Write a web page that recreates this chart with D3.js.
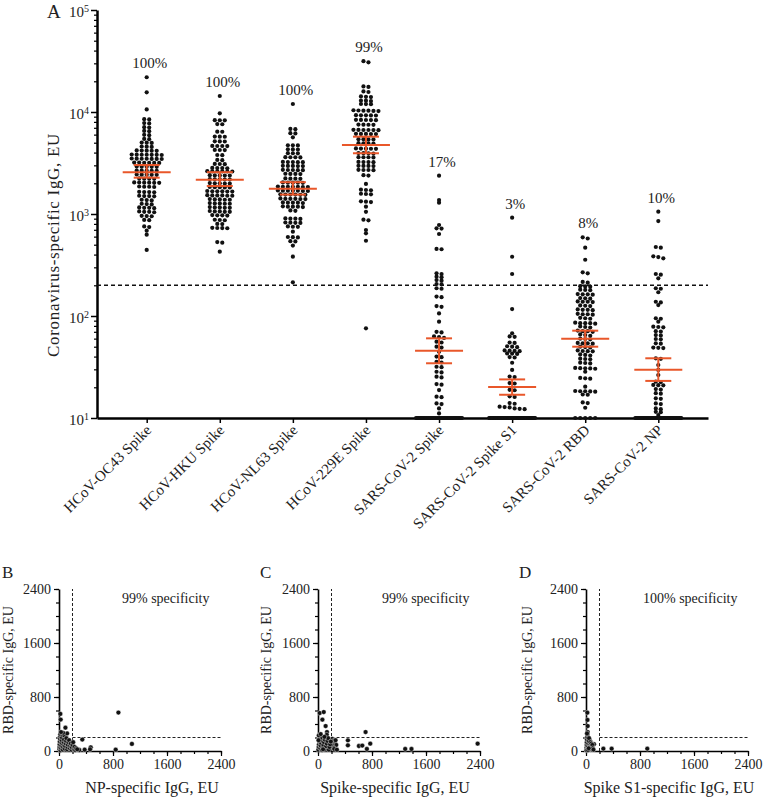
<!DOCTYPE html>
<meta charset="utf-8">
<style>
body { margin: 0; background: #fff; }
svg { font-family: "Liberation Serif", "Times New Roman", serif; }
text { fill: #222; }
</style>
<svg width="763" height="800"></svg>
<script src="https://d3js.org/d3.v7.min.js"></script>
<script>
// panel A: antibody levels per antigen (EU)
var categories = ["HCoV-OC43 Spike", "HCoV-HKU Spike", "HCoV-NL63 Spike", "HCoV-229E Spike",
                  "SARS-CoV-2 Spike", "SARS-CoV-2 Spike S1", "SARS-CoV-2 RBD", "SARS-CoV-2 NP"];

var oc43 = [21900, 15600, 10600, 8500, 8450, 7780, 7720, 7100, 7050, 6530, 6480, 5970, 5930, 5450, 5410,
  5020, 5000, 4980, 4590, 4570, 4550, 4200, 4190, 4180, 4170, 4160, 3830, 3820, 3810, 3810, 3800, 3800, 3790,
  3500, 3490, 3480, 3480, 3470, 3470, 3460, 3190, 3190, 3180, 3180, 3170, 3170, 2920, 2910, 2910, 2900, 2900,
  2670, 2660, 2660, 2650, 2650, 2440, 2430, 2430, 2420, 2420, 2230, 2220, 2220, 2210, 2040, 2040, 2030, 2030,
  2020, 2020, 1860, 1850, 1850, 1840, 1650, 1640, 1640, 1630, 1510, 1500, 1500, 1490, 1380, 1370, 1360, 1260,
  1250, 1240, 1160, 1150, 1150, 1140, 1060, 1050, 1050, 1040, 960, 955, 950, 875, 870, 755, 745, 686, 627, 444];
var hku = [14350, 9710, 8320, 8300, 8280, 7620, 7580, 6420, 6400, 5740, 5730, 5720, 5160, 5150, 5140,
  4650, 4640, 4640, 4630, 4250, 4240, 4230, 3790, 3770, 3390, 3370, 3100, 3090, 3080, 2830, 2820, 2820, 2810,
  2630, 2620, 2620, 2620, 2610, 2610, 2400, 2390, 2390, 2380, 2380, 2200, 2190, 2190, 2180, 2180, 2010, 2000,
  2000, 1990, 1990, 1840, 1830, 1830, 1820, 1820, 1680, 1670, 1670, 1670, 1660, 1660, 1530, 1520, 1520, 1520,
  1510, 1510, 1400, 1390, 1390, 1380, 1380, 1280, 1270, 1270, 1260, 1260, 1170, 1160, 1160, 1150, 1150, 1070,
  1060, 1060, 1050, 1050, 975, 970, 970, 965, 878, 873, 868, 800, 796, 732, 729, 728, 725, 530, 524, 427];
var nl63 = [11980, 6830, 6790, 6200, 6160, 5650, 4720, 4710, 4700, 4310, 4300, 4290, 3950, 3940, 3930,
  3610, 3600, 3600, 3590, 3240, 3230, 3230, 3220, 3220, 2970, 2960, 2960, 2950, 2950, 2710, 2700, 2700, 2690,
  2690, 2480, 2470, 2470, 2460, 2230, 2220, 2220, 2210, 2040, 2030, 2030, 2030, 2020, 1860, 1850, 1850, 1850,
  1850, 1840, 1840, 1700, 1690, 1690, 1690, 1690, 1680, 1680, 1560, 1550, 1550, 1550, 1540, 1540, 1420, 1410,
  1410, 1410, 1400, 1400, 1300, 1290, 1290, 1290, 1280, 1190, 1180, 1180, 1180, 1170, 1085, 1075, 905, 900,
  900, 895, 825, 822, 820, 818, 755, 750, 748, 671, 595, 592, 589, 542, 538, 490, 382, 214];
var hcov229e = [31500, 30700, 17800, 17600, 15900, 15700, 14200, 14100, 14000, 12900, 12900, 12800, 11980,
  11960, 11940, 10400, 10350, 10300, 10300, 10250, 10200, 9300, 9280, 9270, 9260, 9240, 8380, 8360, 8350, 8340,
  8320, 7530, 7520, 7500, 7490, 6690, 6670, 6660, 6660, 6650, 6630, 6110, 6100, 6090, 6080, 6070, 5420, 5410,
  5390, 5380, 4950, 4940, 4920, 4910, 4390, 4380, 4370, 4360, 4350, 3960, 3950, 3930, 3920, 3610, 3600, 3600,
  3590, 3240, 3230, 3230, 3220, 2970, 2960, 2960, 2950, 2710, 2700, 2700, 2690, 2400, 2380, 1970, 1730, 1720,
  1710, 1580, 1570, 1560, 1330, 1320, 1310, 1180, 1050, 880, 866, 697, 647, 547, 75.7];
var sarsSpike = [2375, 1370, 1290, 780, 724, 720, 637, 455, 451, 262, 258, 243, 240, 225, 222, 206, 204,
  187, 185, 155, 153, 125, 123, 106, 88, 70, 69, 63, 62, 61, 56, 55, 50, 49, 44.7, 40, 39.5, 35.6, 35, 31.8,
  31.5, 28.4, 28, 25.4, 25, 21.5, 21.2, 18.8, 16.2, 16, 13.9, 13.7, 12.4, 11.1,
  10, 10, 10, 10, 10, 10, 10, 10, 10, 10, 10, 10, 10, 10, 10, 10, 10, 10, 10, 10, 10, 10, 10,
  10, 10, 10, 10, 10, 10, 10, 10, 10, 10, 10, 10, 10, 10, 10, 10, 10, 10, 10, 10];
var sarsS1 = [920, 381, 258, 117, 67.6, 63, 62.5, 55, 54.5, 50.5, 50, 49.5, 46, 45.7, 45.5, 45.2, 43, 42.8,
  42.5, 39.6, 39.2, 34.8, 29.6, 25.5, 25.2, 22, 21.8, 18.9, 18.7, 16.3, 16.1, 14, 13.8, 12.9, 12.8, 12.7, 12.4,
  12.3, 12.2,
  10, 10, 10, 10, 10, 10, 10, 10, 10, 10, 10, 10, 10, 10, 10, 10, 10, 10, 10, 10, 10, 10, 10, 10, 10, 10, 10,
  10, 10, 10, 10, 10, 10, 10, 10, 10, 10, 10, 10, 10, 10, 10, 10, 10, 10, 10, 10, 10, 10, 10, 10, 10, 10, 10,
  10, 10, 10, 10, 10, 10, 10];
var sarsRbd = [590, 575, 468, 356, 268, 262, 216, 212, 196, 195, 194, 181, 180, 179, 164, 163, 163, 162, 150,
  149, 148, 139, 138, 138, 137, 127, 126, 125, 116, 115, 115, 114, 105, 104, 104, 103, 96, 95, 94, 86, 85, 85,
  85, 84, 79, 78, 77, 72, 71, 71, 70, 66, 65, 64, 60, 59.5, 59, 54.5, 54, 54, 53.5, 50, 49.6, 49.2, 46, 45.4,
  45.2, 45, 42, 41.5, 41, 38.2, 37.9, 37.6, 34.9, 34.6, 34.3, 31, 30.8, 30.7, 30.6, 30.4, 28.4, 24.7, 24.5,
  24.3, 20.3, 18.4, 18.3, 18.3, 18.2, 18.1, 17, 16.9, 14.2, 14, 12.6, 10, 10, 10, 10, 10];
var sarsNp = [1054, 853, 475, 468, 385, 378, 368, 258, 254, 234, 187, 185, 171, 138, 136, 128, 95, 94, 88,
  78.5, 78, 77.5, 71, 70.5, 65, 64.5, 59.5, 59, 54, 53.5, 49, 48.8, 48.5, 38.5, 38, 33.1, 29.6, 26.4, 22.7,
  22.5, 21.1, 21, 20.9, 19.2, 19, 17.5, 17.3, 15.6, 15.4, 13.9, 13.7, 12.4, 12.2, 11.5, 11.4, 10.7,
  10, 10, 10, 10, 10, 10, 10, 10, 10, 10, 10, 10, 10, 10, 10, 10, 10, 10, 10, 10, 10, 10, 10, 10, 10, 10,
  10, 10, 10, 10, 10, 10, 10, 10, 10, 10, 10, 10, 10, 10, 10, 10, 10, 10, 10, 10, 10, 10];
var seriesA = [oc43, hku, nl63, hcov229e, sarsSpike, sarsS1, sarsRbd, sarsNp];

var geoMean = [2570, 2170, 1770, 4740, 45.7, 20.1, 59.9, 29.8];
var ciLow   = [2270, 1880, 1550, 3940, 34.4, 16.9, 50, 23.1];
var ciHigh  = [3020, 2570, 2050, 5730, 60.4, 23.9, 71.8, 38.5];
var positivity = ["100%", "100%", "100%", "99%", "17%", "3%", "8%", "10%"];
var yTicksA = [10, 100, 1000, 10000, 100000];
var cutoff = 200;

// panels B-D: RBD vs other antigen
var npB   = [880, 345, 1080, 840, 470, 460, 380, 300, 20, 25, 95,
  5, 8, 10, 12, 15, 18, 20, 25, 30, 35, 38, 40, 45, 50, 55, 60, 65, 70, 75, 80, 85, 90, 100, 105, 110,
  120, 125, 130, 140, 150, 160, 165, 175, 185, 190, 200, 210, 220, 230, 240, 255, 270, 120, 60, 30];
var rbdB  = [570, 170, 105, 20, 55, 25, 20, 15, 550, 465, 345,
  30, 60, 100, 140, 180, 220, 250, 10, 45, 80, 120, 160, 200, 240, 20, 60, 100, 130, 170, 230, 35, 75, 110, 150, 190,
  25, 60, 95, 130, 160, 40, 80, 110, 20, 55, 90, 130, 30, 60, 15, 40, 25, 260, 270, 280];
var spikeC = [25, 85, 65, 113, 133, 130, 705, 443, 443, 774, 606, 656, 724, 1292, 1385, 2365,
  210, 230, 250, 270, 220, 240, 280, 200, 260,
  5, 10, 15, 20, 25, 30, 35, 40, 45, 50, 55, 60, 70, 80, 90, 100, 110, 120, 130, 140, 150, 160, 170, 180, 190,
  12, 40, 8, 75, 95];
var rbdC   = [562, 577, 464, 370, 281, 240, 281, 158, 84, 109, 74, 80, 30, 30, 30, 109,
  180, 150, 120, 90, 60, 30, 20, 100, 160,
  20, 60, 100, 140, 180, 210, 40, 80, 120, 160, 200, 15, 50, 90, 130, 170, 30, 70, 110, 150, 190, 20, 60, 100, 140,
  230, 250, 160, 25, 210];
var s1D  = [20, 22, 25, 25, 30, 60, 118, 257, 380, 908,
  5, 8, 10, 12, 15, 18, 20, 25, 30, 35, 40, 45, 50, 55, 60, 65, 70, 75, 80, 85, 90, 95, 100, 110, 10, 30, 40, 15];
var rbdD = [568, 460, 370, 281, 200, 148, 100, 34, 34, 34,
  20, 50, 90, 130, 170, 210, 245, 30, 70, 110, 150, 190, 20, 55, 95, 130, 40, 75, 110, 20, 60, 90, 40, 20, 10, 15, 40, 260];
var linTicks = [0, 800, 1600, 2400];
var minorStep = 200;

var svg = d3.select("svg");
var red = "#e9572a";
var serif = "Liberation Serif";

// ---------- panel A ----------
var x = d3.scalePoint().domain(categories).range([97, 708]).padding(0.68);
var y = d3.scaleLog().domain([10, 100000]).range([418, 10]);

var gA = svg.append("g");

var minor = y.ticks().filter(function(d) { return yTicksA.indexOf(d) < 0; });
gA.append("g").attr("transform", "translate(97,0)")
    .call(d3.axisLeft(y).tickValues(minor).tickSize(3).tickFormat(""))
    .call(function(g) { g.select(".domain").remove(); g.selectAll("line").attr("stroke-width", 1.2); });

var yAx = gA.append("g").attr("transform", "translate(97,0)")
    .call(d3.axisLeft(y).tickValues(yTicksA).tickSize(6).tickSizeOuter(0).tickFormat(""))
    .attr("font-family", serif);
yAx.select(".domain").attr("stroke-width", 2.5);
yAx.selectAll("line").attr("stroke-width", 1.5);
yAx.selectAll(".tick text").each(function(d) {
    var t = d3.select(this).attr("x", -8).attr("font-size", "15px").attr("dy", "0.4em");
    t.append("tspan").text("10");
    t.append("tspan").attr("dy", "-0.5em").attr("font-size", "10px").text(Math.round(Math.log10(d)));
});

var xAx = gA.append("g").attr("transform", "translate(0,418)")
    .call(d3.axisBottom(x).tickSize(5).tickSizeOuter(0))
    .attr("font-family", serif);
xAx.select(".domain").attr("stroke-width", 2.5);
xAx.selectAll("line").attr("stroke-width", 1.5);
xAx.selectAll(".tick text")
    .attr("x", 0).attr("y", 0).attr("dy", 0)
    .attr("transform", "translate(5,13) rotate(-45)")
    .attr("font-size", "15px")
    .style("text-anchor", "end");

gA.append("line")
    .attr("x1", 97).attr("x2", 708).attr("y1", y(cutoff)).attr("y2", y(cutoff))
    .attr("stroke", "#111").attr("stroke-width", 1.5).attr("stroke-dasharray", "4,3");

function swarm(values, cx) {
    var sorted = values.slice().sort(function(a, b) { return b - a; });
    var rows = [], cur = null;
    sorted.forEach(function(v) {
        var py = y(v);
        if (cur && Math.abs(py - cur.y0) < 2.6) cur.pts.push(py);
        else { cur = {y0: py, pts: [py]}; rows.push(cur); }
    });
    var out = [];
    rows.forEach(function(r) {
        var n = r.pts.length;
        var step = n > 1 ? Math.min(5, 46 / (n - 1)) : 0;
        r.pts.forEach(function(py, i) { out.push({x: cx + (i - (n - 1) / 2) * step, y: py}); });
    });
    return out;
}

seriesA.forEach(function(vals, i) {
    var cx = x(categories[i]);
    gA.append("g").selectAll("circle")
        .data(swarm(vals, cx))
        .enter().append("circle")
        .attr("cx", function(d) { return d.x; })
        .attr("cy", function(d) { return d.y; })
        .attr("r", 2.1)
        .attr("fill", "#111");
});

var errG = gA.append("g").attr("stroke", red).attr("stroke-width", 2);
categories.forEach(function(c, i) {
    var cx = x(c);
    errG.append("line").attr("x1", cx - 24).attr("x2", cx + 24).attr("y1", y(geoMean[i])).attr("y2", y(geoMean[i]));
    errG.append("line").attr("x1", cx - 13).attr("x2", cx + 13).attr("y1", y(ciLow[i])).attr("y2", y(ciLow[i]));
    errG.append("line").attr("x1", cx - 13).attr("x2", cx + 13).attr("y1", y(ciHigh[i])).attr("y2", y(ciHigh[i]));
    errG.append("line").attr("x1", cx).attr("x2", cx).attr("y1", y(ciLow[i])).attr("y2", y(ciHigh[i]));
    gA.append("text")
        .attr("x", cx + 3).attr("y", y(d3.max(seriesA[i])) - 9)
        .attr("text-anchor", "middle").attr("font-size", "15px")
        .text(positivity[i]);
});

gA.append("text").attr("x", 47).attr("y", 18).attr("font-size", "19px").text("A");
gA.append("text")
    .attr("transform", "translate(59,245) rotate(-90)")
    .attr("text-anchor", "middle").attr("font-size", "17px").attr("letter-spacing", "0.7px")
    .text("Coronavirus-specific IgG, EU");

// ---------- panels B-D ----------
var panels = [
    {letter: "B", xs: npB, ys: rbdB, xTitle: "NP-specific IgG, EU", spec: "99% specificity",
     left: 59, letterX: 2, titleX: 152, specX: 122, yTitleX: 13},
    {letter: "C", xs: spikeC, ys: rbdC, xTitle: "Spike-specific IgG, EU", spec: "99% specificity",
     left: 318, letterX: 260, titleX: 395, specX: 382, yTitleX: 271},
    {letter: "D", xs: s1D, ys: rbdD, xTitle: "Spike S1-specific IgG, EU", spec: "100% specificity",
     left: 586, letterX: 519, titleX: 669, specX: 643, yTitleX: 532}
];
var panelTop = 589, panelBottom = 751, side = 162;
var minorTicks = d3.range(0, 2401, minorStep);

panels.forEach(function(p) {
    var g = svg.append("g");
    var xs = d3.scaleLinear().domain([0, 2400]).range([p.left, p.left + side]);
    var ys = d3.scaleLinear().domain([0, 2400]).range([panelBottom, panelTop]);

    g.append("g").attr("transform", "translate(0," + panelBottom + ")")
        .call(d3.axisBottom(xs).tickValues(minorTicks).tickSize(3).tickFormat(""))
        .call(function(a) { a.select(".domain").remove(); });
    g.append("g").attr("transform", "translate(" + p.left + ",0)")
        .call(d3.axisLeft(ys).tickValues(minorTicks).tickSize(3).tickFormat(""))
        .call(function(a) { a.select(".domain").remove(); });

    var xa = g.append("g").attr("transform", "translate(0," + panelBottom + ")")
        .call(d3.axisBottom(xs).tickValues(linTicks).tickSize(5).tickSizeOuter(0).tickFormat(d3.format("d")));
    var ya = g.append("g").attr("transform", "translate(" + p.left + ",0)")
        .call(d3.axisLeft(ys).tickValues(linTicks).tickSize(5).tickSizeOuter(0).tickFormat(d3.format("d")));
    [xa, ya].forEach(function(a) {
        a.attr("font-family", serif).attr("font-size", "14px");
        a.select(".domain").attr("stroke-width", 1.6);
    });
    g.selectAll(".tick line").attr("stroke-width", 1.2);

    g.append("line")
        .attr("x1", xs(cutoff)).attr("x2", xs(cutoff)).attr("y1", ys(0)).attr("y2", ys(2400))
        .attr("stroke", "#222").attr("stroke-width", 1).attr("stroke-dasharray", "3,2");
    g.append("line")
        .attr("x1", xs(cutoff)).attr("x2", xs(2400)).attr("y1", ys(cutoff)).attr("y2", ys(cutoff))
        .attr("stroke", "#222").attr("stroke-width", 1).attr("stroke-dasharray", "3,2");

    g.append("g").selectAll("circle")
        .data(p.xs)
        .enter().append("circle")
        .attr("cx", function(d) { return xs(d); })
        .attr("cy", function(d, i) { return ys(p.ys[i]); })
        .attr("r", 2.4)
        .attr("fill", "#111").attr("stroke", "#fff").attr("stroke-width", 0.4);

    g.append("text").attr("x", p.specX).attr("y", 603).attr("font-size", "14px").text(p.spec);
    g.append("text").attr("x", p.letterX).attr("y", 578).attr("font-size", "17px").text(p.letter);
    g.append("text").attr("x", p.titleX).attr("y", 793).attr("text-anchor", "middle")
        .attr("font-size", "16px").text(p.xTitle);
    g.append("text")
        .attr("transform", "translate(" + p.yTitleX + "," + ((panelTop + panelBottom) / 2) + ") rotate(-90)")
        .attr("text-anchor", "middle").attr("font-size", "14px")
        .text("RBD-specific IgG, EU");
});
</script>
